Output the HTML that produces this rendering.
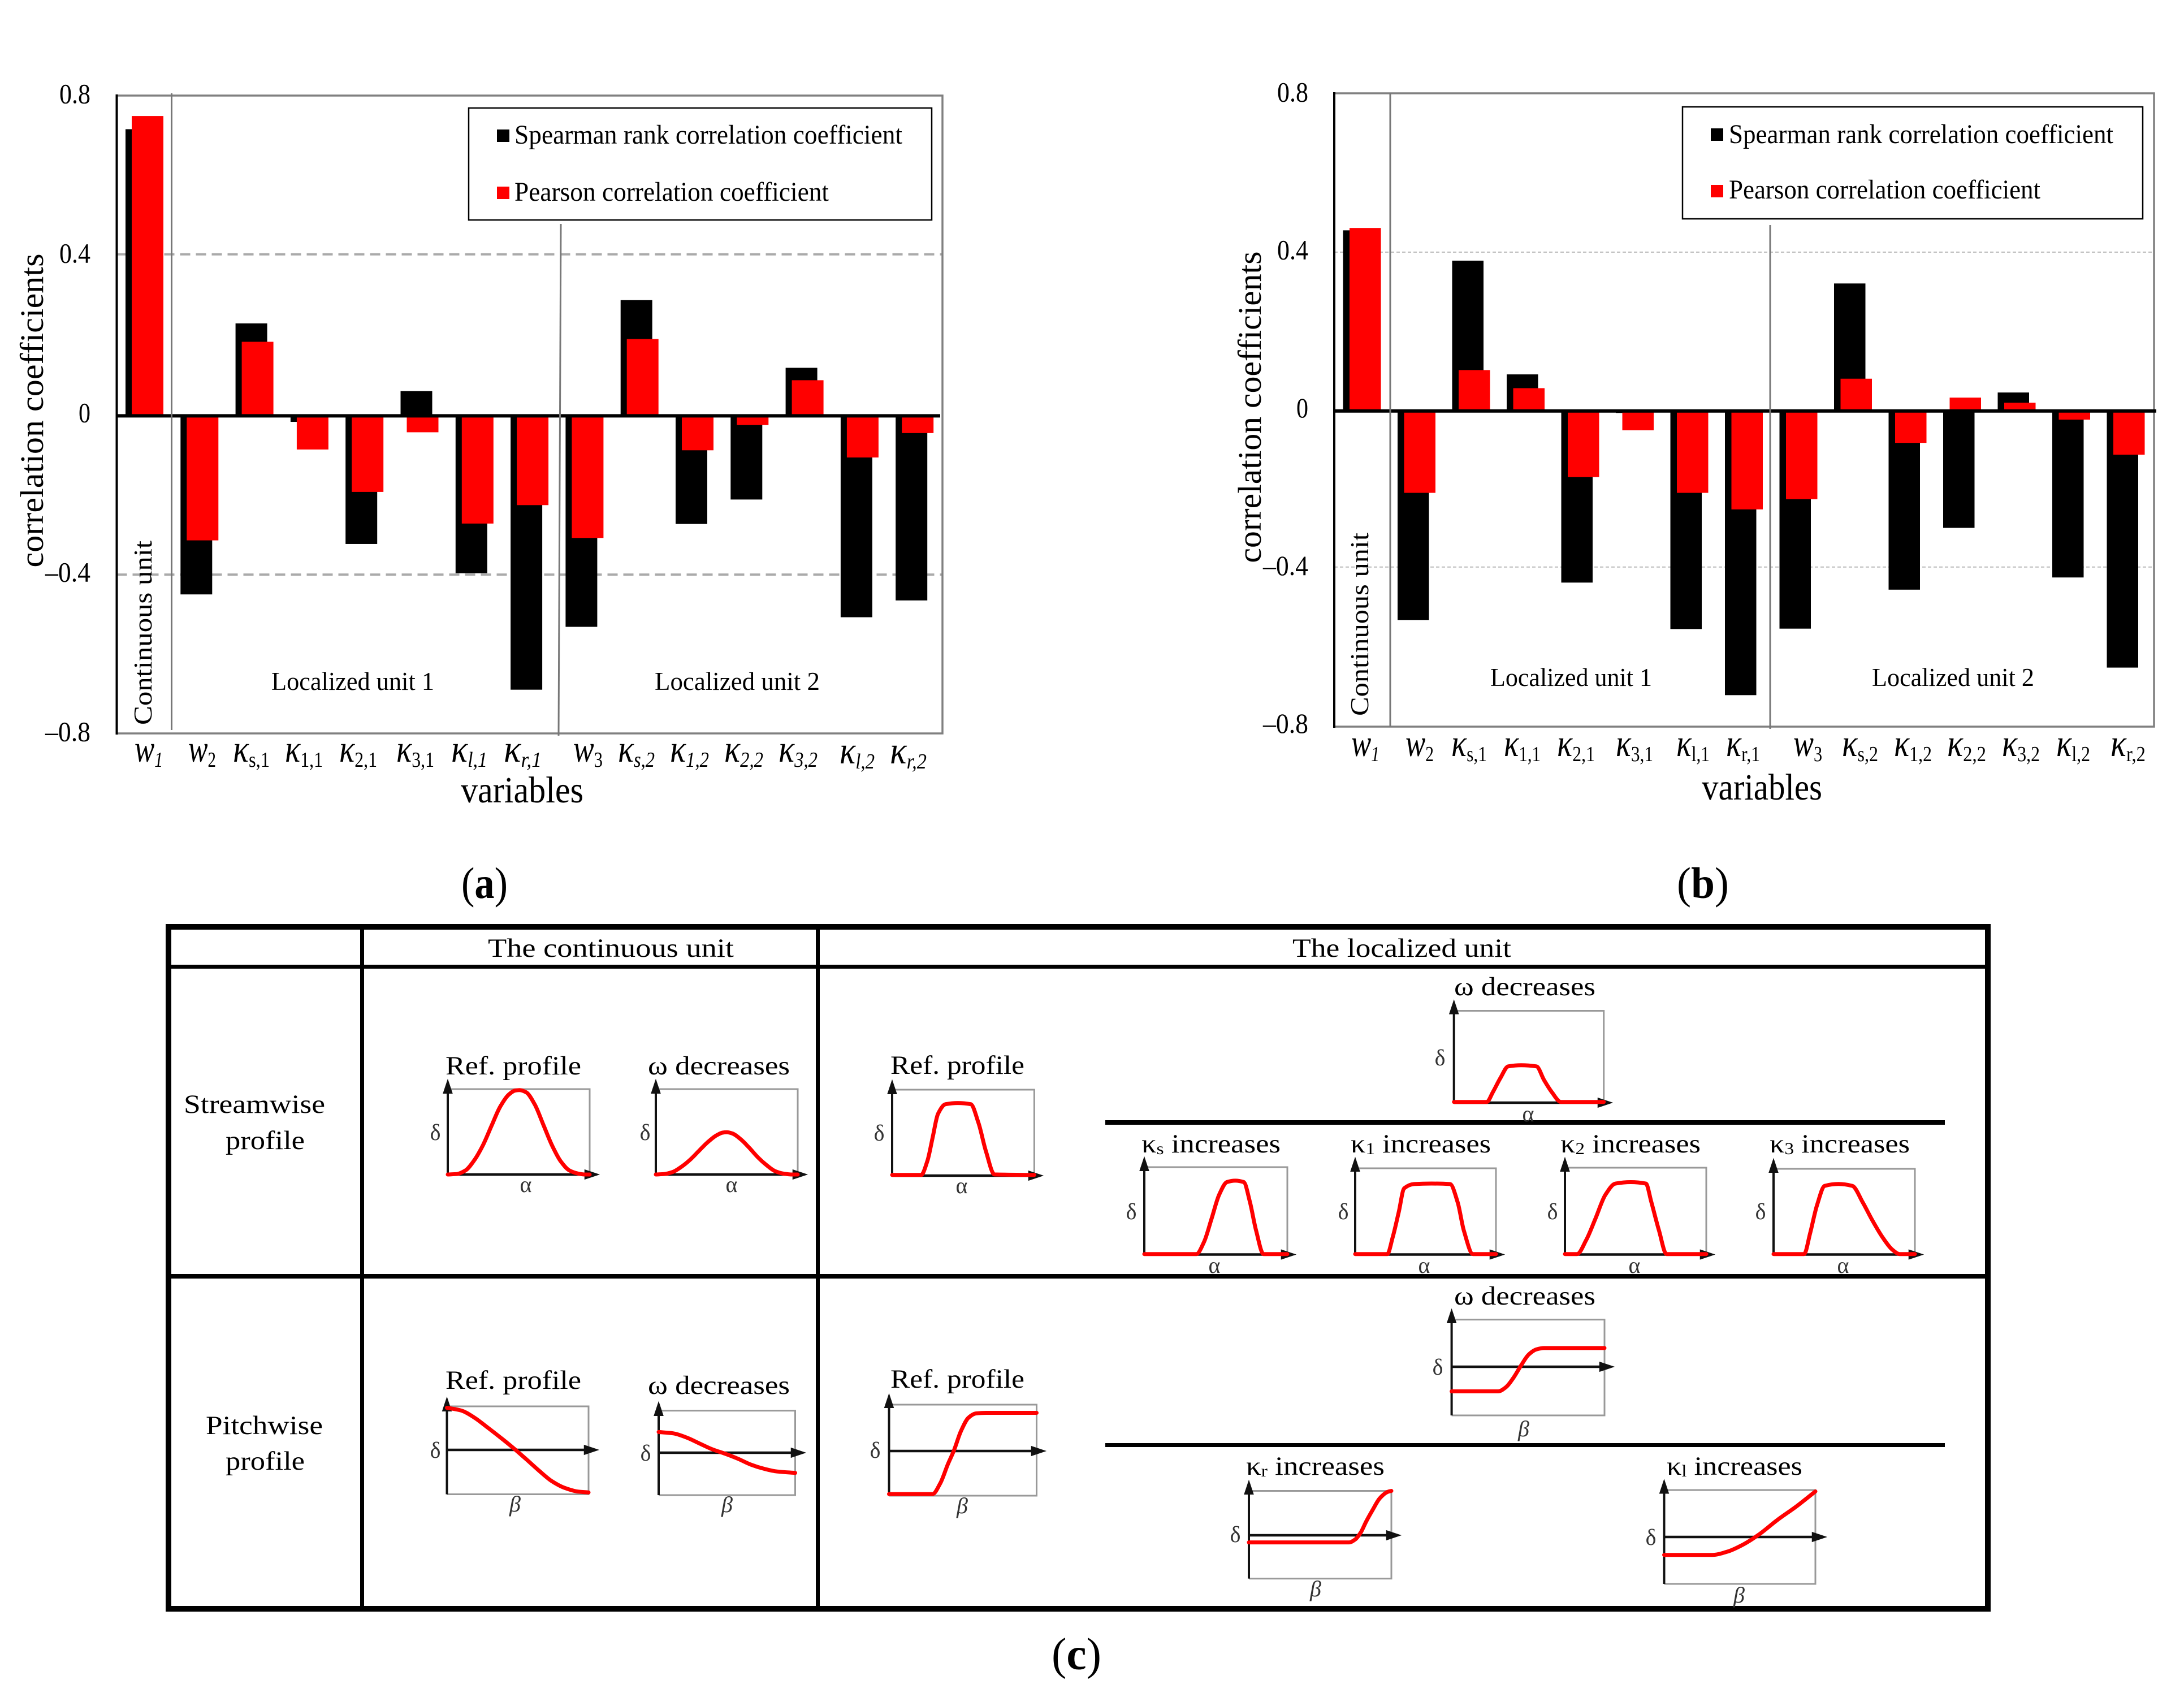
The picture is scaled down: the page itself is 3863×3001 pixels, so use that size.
<!DOCTYPE html>
<html lang="en">
<head>
<meta charset="utf-8">
<title>Correlation coefficients and profile parameterisation</title>
<style>
html,body{margin:0;padding:0;background:#fff;}
svg{display:block;}
text{font-family:"Liberation Serif","DejaVu Serif",serif;fill:#000;}
.tick{font-size:50px;}
.axt{font-size:58px;}
.var{font-size:66px;}
.leg{font-size:48px;}
.unit{font-size:46px;}
.cat{font-size:68px;font-style:italic;}
.sub{font-size:38px;font-style:normal;}
.subi{font-size:38px;font-style:italic;}
.cap{font-size:74px;}
.head{font-size:47px;}
.ttl{font-size:47px;}
.sml{font-size:40px;fill:#333;}
.smi{font-size:40px;fill:#333;font-style:italic;}
.ts{font-size:30px;}
</style>
</head>
<body>
<svg xmlns="http://www.w3.org/2000/svg" width="3863" height="3001" viewBox="0 0 3863 3001">
<rect x="0" y="0" width="3863" height="3001" fill="#fff"/>

<g id="chart-a"></g>
<g id="chart-b"></g>

<!-- chart a annotations -->
<g>
<rect x="829" y="191" width="819" height="198" fill="#fff" stroke="#000" stroke-width="2.5"/>
<rect x="879" y="229" width="22" height="22" fill="#000"/>
<text class="leg" x="910" y="254" textLength="686">Spearman rank correlation coefficient</text>
<rect x="879" y="330" width="22" height="22" fill="#f00"/>
<text class="leg" x="910" y="355" textLength="556">Pearson correlation coefficient</text>
<line x1="303.5" y1="165" x2="303.5" y2="1291" stroke="#777" stroke-width="3"/>
<line x1="992" y1="396" x2="988" y2="1301" stroke="#777" stroke-width="3"/>
<text class="axt" transform="translate(76,726) rotate(-90)" text-anchor="middle" textLength="555">correlation coefficients</text>
<text class="unit" transform="translate(268,1119) rotate(-90)" text-anchor="middle" textLength="326">Continuous unit</text>
<text class="unit" x="480" y="1220" textLength="288">Localized unit 1</text>
<text class="unit" x="1158" y="1220" textLength="292">Localized unit 2</text>
<text class="var" x="815" y="1419" textLength="217">variables</text>
<g>
<text class="cat" x="238" y="1347" textLength="50">w<tspan class="subi" dy="9">1</tspan></text>
<text class="cat" x="333" y="1347" textLength="49">w<tspan class="sub" dy="9">2</tspan></text>
<text class="cat" x="412" y="1347" textLength="65">κ<tspan class="sub" dy="9">s,1</tspan></text>
<text class="cat" x="504" y="1347" textLength="67">κ<tspan class="sub" dy="9">1,1</tspan></text>
<text class="cat" x="600" y="1347" textLength="67">κ<tspan class="sub" dy="9">2,1</tspan></text>
<text class="cat" x="701" y="1347" textLength="67">κ<tspan class="sub" dy="9">3,1</tspan></text>
<text class="cat" x="798" y="1347" textLength="64">κ<tspan class="subi" dy="9">l,1</tspan></text>
<text class="cat" x="891" y="1347" textLength="67">κ<tspan class="subi" dy="9">r,1</tspan></text>
<text class="cat" x="1014" y="1347" textLength="52">w<tspan class="sub" dy="9">3</tspan></text>
<text class="cat" x="1093" y="1347" textLength="65">κ<tspan class="subi" dy="9">s,2</tspan></text>
<text class="cat" x="1185" y="1347" textLength="69">κ<tspan class="subi" dy="9">1,2</tspan></text>
<text class="cat" x="1281" y="1347" textLength="69">κ<tspan class="subi" dy="9">2,2</tspan></text>
<text class="cat" x="1377" y="1347" textLength="69">κ<tspan class="subi" dy="9">3,2</tspan></text>
<text class="cat" x="1485" y="1350" textLength="62">κ<tspan class="subi" dy="9">l,2</tspan></text>
<text class="cat" x="1574" y="1350" textLength="65">κ<tspan class="subi" dy="9">r,2</tspan></text>
</g>
<text class="cap" x="816" y="1588" textLength="82" style="font-size:78px">(<tspan font-weight="bold">a</tspan>)</text>
</g>

<!-- chart b annotations -->
<g>
<rect x="2976" y="189" width="814" height="198" fill="#fff" stroke="#000" stroke-width="2.5"/>
<rect x="3026" y="227" width="22" height="22" fill="#000"/>
<text class="leg" x="3058" y="253" textLength="680">Spearman rank correlation coefficient</text>
<rect x="3026" y="327" width="22" height="22" fill="#f00"/>
<text class="leg" x="3058" y="351" textLength="551">Pearson correlation coefficient</text>
<line x1="2459" y1="165" x2="2459" y2="1285" stroke="#777" stroke-width="3"/>
<line x1="3131" y1="398" x2="3131" y2="1289" stroke="#777" stroke-width="3"/>
<text class="axt" transform="translate(2230,720) rotate(-90)" text-anchor="middle" textLength="551">correlation coefficients</text>
<text class="unit" transform="translate(2420,1104) rotate(-90)" text-anchor="middle" textLength="324">Continuous unit</text>
<text class="unit" x="2636" y="1213" textLength="286">Localized unit 1</text>
<text class="unit" x="3311" y="1213" textLength="287">Localized unit 2</text>
<text class="var" x="3010" y="1414" textLength="213">variables</text>
<g>
<text class="cat" x="2390" y="1337" textLength="50">w<tspan class="subi" dy="9">1</tspan></text>
<text class="cat" x="2486" y="1337" textLength="50">w<tspan class="sub" dy="9">2</tspan></text>
<text class="cat" x="2567" y="1337" textLength="63">κ<tspan class="sub" dy="9">s,1</tspan></text>
<text class="cat" x="2660" y="1337" textLength="65">κ<tspan class="sub" dy="9">1,1</tspan></text>
<text class="cat" x="2754" y="1337" textLength="67">κ<tspan class="sub" dy="9">2,1</tspan></text>
<text class="cat" x="2858" y="1337" textLength="66">κ<tspan class="sub" dy="9">3,1</tspan></text>
<text class="cat" x="2965" y="1337" textLength="59">κ<tspan class="sub" dy="9">l,1</tspan></text>
<text class="cat" x="3053" y="1337" textLength="60">κ<tspan class="sub" dy="9">r,1</tspan></text>
<text class="cat" x="3172" y="1337" textLength="51">w<tspan class="sub" dy="9">3</tspan></text>
<text class="cat" x="3258" y="1337" textLength="64">κ<tspan class="sub" dy="9">s,2</tspan></text>
<text class="cat" x="3350" y="1337" textLength="67">κ<tspan class="sub" dy="9">1,2</tspan></text>
<text class="cat" x="3444" y="1337" textLength="69">κ<tspan class="sub" dy="9">2,2</tspan></text>
<text class="cat" x="3541" y="1337" textLength="67">κ<tspan class="sub" dy="9">3,2</tspan></text>
<text class="cat" x="3637" y="1337" textLength="60">κ<tspan class="sub" dy="9">l,2</tspan></text>
<text class="cat" x="3733" y="1337" textLength="62">κ<tspan class="sub" dy="9">r,2</tspan></text>
</g>
<text class="cap" x="2966" y="1588" textLength="92" style="font-size:78px">(<tspan font-weight="bold">b</tspan>)</text>
</g>

<!-- table -->
<g>
<rect x="293" y="1634" width="10" height="1216" fill="#000"/>
<rect x="3511" y="1634" width="10" height="1216" fill="#000"/>
<rect x="293" y="1634" width="3228" height="10" fill="#000"/>
<rect x="293" y="2840" width="3228" height="10" fill="#000"/>
<rect x="293" y="1706" width="3228" height="7" fill="#000"/>
<rect x="293" y="2253" width="3228" height="8" fill="#000"/>
<rect x="637" y="1634" width="7" height="1216" fill="#000"/>
<rect x="1443" y="1634" width="7" height="1216" fill="#000"/>
<rect x="1955" y="1981" width="1485" height="8" fill="#000"/>
<rect x="1955" y="2552" width="1485" height="7" fill="#000"/>

<text class="head" x="863" y="1692" textLength="435">The continuous unit</text>
<text class="head" x="2286" y="1692" textLength="387">The localized unit</text>
<text class="head" x="325" y="1968" textLength="250">Streamwise</text>
<text class="head" x="399" y="2032" textLength="140">profile</text>
<text class="head" x="364" y="2536" textLength="207">Pitchwise</text>
<text class="head" x="399" y="2599" textLength="140">profile</text>

<!-- inset titles -->
<text class="ttl" x="788" y="1900" textLength="240">Ref. profile</text>
<text class="ttl" x="1146" y="1900" textLength="251">ω decreases</text>
<text class="ttl" x="1575" y="1899" textLength="237">Ref. profile</text>
<text class="ttl" x="2572" y="1760" textLength="250">ω decreases</text>
<text class="ttl" x="2019" y="2038" textLength="246">κ<tspan class="ts" dy="3">s</tspan><tspan dy="-3"> increases</tspan></text>
<text class="ttl" x="2389" y="2038" textLength="248">κ<tspan class="ts" dy="3">1</tspan><tspan dy="-3"> increases</tspan></text>
<text class="ttl" x="2760" y="2038" textLength="248">κ<tspan class="ts" dy="3">2</tspan><tspan dy="-3"> increases</tspan></text>
<text class="ttl" x="3130" y="2038" textLength="248">κ<tspan class="ts" dy="3">3</tspan><tspan dy="-3"> increases</tspan></text>
<text class="ttl" x="788" y="2456" textLength="240">Ref. profile</text>
<text class="ttl" x="1146" y="2465" textLength="251">ω decreases</text>
<text class="ttl" x="1575" y="2454" textLength="237">Ref. profile</text>
<text class="ttl" x="2572" y="2307" textLength="250">ω decreases</text>
<text class="ttl" x="2204" y="2608" textLength="245">κ<tspan class="ts" dy="3">r</tspan><tspan dy="-3"> increases</tspan></text>
<text class="ttl" x="2948" y="2608" textLength="240">κ<tspan class="ts" dy="3">l</tspan><tspan dy="-3"> increases</tspan></text>

<!-- inset axis letters -->
<g text-anchor="middle" transform="translate(0,2)">
<text class="sml" x="770" y="2014">δ</text>
<text class="sml" x="930" y="2106">α</text>
<text class="sml" x="1141" y="2014">δ</text>
<text class="sml" x="1294" y="2106">α</text>
<text class="sml" x="1555" y="2015">δ</text>
<text class="sml" x="1701" y="2108">α</text>
<text class="sml" x="2547" y="1882">δ</text>
<text class="sml" x="2703" y="1981">α</text>
<text class="sml" x="2001" y="2154">δ</text>
<text class="sml" x="2148" y="2249">α</text>
<text class="sml" x="2376" y="2154">δ</text>
<text class="sml" x="2519" y="2249">α</text>
<text class="sml" x="2746" y="2154">δ</text>
<text class="sml" x="2891" y="2249">α</text>
<text class="sml" x="3114" y="2154">δ</text>
<text class="sml" x="3260" y="2249">α</text>
<text class="sml" x="770" y="2576">δ</text>
<text class="smi" x="911" y="2671">β</text>
<text class="sml" x="1142" y="2581">δ</text>
<text class="smi" x="1286" y="2672">β</text>
<text class="sml" x="1548" y="2576">δ</text>
<text class="smi" x="1702" y="2674">β</text>
<text class="sml" x="2543" y="2429">δ</text>
<text class="smi" x="2695" y="2538">β</text>
<text class="sml" x="2185" y="2725">δ</text>
<text class="smi" x="2327" y="2821">β</text>
<text class="sml" x="2920" y="2730">δ</text>
<text class="smi" x="3076" y="2832">β</text>
</g>
<g id="insets"></g>
</g>
<text class="cap" x="1860" y="2952" textLength="88" style="font-size:80px">(<tspan font-weight="bold">c</tspan>)</text>
</svg>

<script>
// ---- bar chart data ----
const categoriesA = ['w1','w2','κs,1','κ1,1','κ2,1','κ3,1','κl,1','κr,1','w3','κs,2','κ1,2','κ2,2','κ3,2','κl,2','κr,2'];
const spearmanA = [0.716,-0.446,0.231,-0.015,-0.32,0.062,-0.393,-0.684,-0.527,0.289,-0.27,-0.209,0.12,-0.503,-0.461];
const pearsonA = [0.749,-0.311,0.185,-0.084,-0.19,-0.041,-0.269,-0.223,-0.305,0.192,-0.086,-0.023,0.089,-0.104,-0.043];
const categoriesB = ['w1','w2','κs,1','κ1,1','κ2,1','κ3,1','κl,1','κr,1','w3','κs,2','κ1,2','κ2,2','κ3,2','κl,2','κr,2'];
const spearmanB = [0.459,-0.531,0.382,0.093,-0.436,-0.005,-0.554,-0.722,-0.553,0.324,-0.454,-0.297,0.047,-0.423,-0.652];
const pearsonB = [0.465,-0.208,0.104,0.058,-0.168,-0.049,-0.208,-0.25,-0.224,0.082,-0.081,0.034,0.021,-0.022,-0.111];
const yTickValues = [0.8,0.4,0,-0.4,-0.8];
const yTickLabels = ['0.8','0.4','0','–0.4','–0.8'];
const gridValues = [0.4,-0.4];

// ---- profile curve data (fractions of each inset's axis range) ----
const streamContRefX = [0,.064,.125,.186,.247,.308,.369,.43,.476,.506,.552,.613,.674,.735,.796,.857,.918,.964,1];
const streamContRefY = [0,.005,.048,.165,.34,.569,.793,.936,.984,.989,.963,.82,.58,.34,.154,.048,.011,0,0];
const streamContOmegaX = [0,.06,.12,.18,.24,.3,.36,.42,.47,.5,.54,.6,.66,.72,.78,.84,.9,.96,1];
const streamContOmegaY = [0,.005,.03,.09,.17,.27,.37,.45,.49,.495,.48,.41,.31,.2,.11,.04,.01,0,0];
const pitchContRefX = [0,.1,.19,.285,.376,.468,.56,.65,.74,.83,.925,1];
const pitchContRefY = [.984,.953,.876,.762,.648,.528,.399,.269,.15,.073,.031,.021];
const pitchContOmegaX = [0,.108,.203,.297,.392,.487,.582,.677,.772,.867,1];
const pitchContOmegaY = [.747,.731,.683,.613,.543,.49,.43,.36,.312,.28,.263];
const streamLocRefX = [0,.204,.247,.285,.323,.376,.462,.553,.608,.661,.72,1];
const streamLocRefY = [.008,.008,.166,.443,.72,.831,.845,.831,.609,.277,.014,.008];
const streamLocOmegaX = [0,.219,.26,.311,.362,.449,.551,.602,.653,.714,1];
const streamLocOmegaY = [.008,.008,.116,.271,.395,.408,.395,.245,.116,.008,.008];
const streamKsX = [0,.364,.417,.471,.524,.578,.636,.695,.738,.781,.834,1];
const streamKsY = [.005,.005,.142,.414,.687,.829,.845,.829,.605,.278,.005,.005];
const streamK1X = [0,.228,.266,.31,.348,.418,.543,.674,.728,.772,.837,1];
const streamK1Y = [.005,.005,.196,.496,.768,.817,.823,.817,.605,.278,.005,.005];
const streamK2X = [0,.086,.151,.216,.286,.357,.465,.573,.611,.665,.719,1];
const streamK2Y = [.005,.005,.169,.414,.687,.817,.834,.817,.605,.278,.005,.005];
const streamK3X = [0,.216,.259,.308,.362,.459,.557,.632,.703,.773,.838,.892,1];
const streamK3Y = [.005,.005,.251,.578,.801,.823,.801,.605,.387,.196,.06,.005,.005];
const pitchLocRefX = [0,.295,.347,.399,.44,.487,.539,.59,.658,1];
const pitchLocRefY = [.018,.018,.136,.346,.497,.708,.858,.904,.91,.91];
const pitchLocOmegaX = [0,.305,.355,.405,.455,.505,.555,.605,1];
const pitchLocOmegaY = [.251,.251,.294,.394,.523,.637,.689,.703,.703];
const pitchKrX = [0,.704,.747,.785,.823,.866,.919,.973,1];
const pitchKrY = [.4125,.4125,.447,.525,.65,.775,.916,.988,1];
const pitchKlX = [0,.318,.419,.52,.621,.747,.874,1];
const pitchKlY = [.309,.309,.344,.417,.519,.679,.825,.985];

const NS = 'http://www.w3.org/2000/svg';
function add(parent, tag, attrs) {
  const el = document.createElementNS(NS, tag);
  for (const k in attrs) el.setAttribute(k, attrs[k]);
  parent.appendChild(el);
  return el;
}

function drawBarChart(g, c, categories, spearman, pearson) {
  const xBand = i => c.x0 + i * c.pitch;
  const yScale = v => c.zero - v * c.unit;
  const tickY = v => c.zero + 11 - v * c.tickUnit;

  gridValues.forEach(v => {
    const grid = add(g, 'line', {x1: c.left, x2: c.right, y1: yScale(v) - 2.5, y2: yScale(v) - 2.5, stroke: c.gridColor, 'stroke-width': c.gridWidth, 'stroke-dasharray': c.gridDash});
    
    
  });

  const frame = add(g, 'path', {d: 'M' + c.left + ' ' + c.top + 'H' + c.right + 'V' + c.bottom + 'H' + c.left, fill: 'none', stroke: '#808080', 'stroke-width': 3.5});
  
  

  categories.forEach((cat, i) => {
    const s = spearman[i];
    const sBar = add(g, 'rect', {x: xBand(i), y: Math.min(yScale(s), yScale(0)), width: c.barW, height: Math.abs(yScale(s) - yScale(0)), fill: '#000', 'data-category': cat});
    
    
    const p = pearson[i];
    const pBar = add(g, 'rect', {x: xBand(i) + c.offset, y: Math.min(yScale(p), yScale(0)), width: c.barW, height: Math.abs(yScale(p) - yScale(0)), fill: '#f00', 'data-category': cat});
    
    
  });

  const yAxis = add(g, 'line', {x1: c.left, x2: c.left, y1: c.top - 2, y2: c.bottom + 2, stroke: '#000', 'stroke-width': 4});
  
  
  const zeroAxis = add(g, 'line', {x1: c.left, x2: c.zeroEnd, y1: yScale(0), y2: yScale(0), stroke: '#000', 'stroke-width': 6});
  
  

  yTickValues.forEach((v, i) => {
    const label = yTickLabels[i];
    const t = add(g, 'text', {x: c.tickX, y: tickY(v), 'text-anchor': 'end', 'class': 'tick', textLength: label.length === 1 ? 21 : label.length === 3 ? 55 : 80});
    
    
    t.textContent = label;
  });
}

drawBarChart(document.getElementById('chart-a'),
  {left: 206.5, right: 1667, top: 169, bottom: 1297, zero: 735.4, unit: 708, tickUnit: 705, x0: 222, pitch: 97.3, barW: 56, offset: 11,
   gridColor: '#aaa', gridWidth: 4, gridDash: '18 10', zeroEnd: 1663, tickX: 160},
  categoriesA, spearmanA, pearsonA);
drawBarChart(document.getElementById('chart-b'),
  {left: 2360, right: 3810, top: 165, bottom: 1285, zero: 726.8, unit: 696, tickUnit: 698, x0: 2375.5, pitch: 96.5, barW: 55.5, offset: 11.5,
   gridColor: '#bbb', gridWidth: 2, gridDash: '6 4', zeroEnd: 3814, tickX: 2314},
  categoriesB, spearmanB, pearsonB);

// ---- profile insets ----
function monotonePath(pts) {
  const n = pts.length;
  const sec = [];
  for (let i = 0; i < n - 1; i++) sec.push((pts[i + 1][1] - pts[i][1]) / (pts[i + 1][0] - pts[i][0]));
  const tan = [sec[0]];
  for (let i = 1; i < n - 1; i++) {
    tan.push(sec[i - 1] * sec[i] <= 0 ? 0 : 2 * sec[i - 1] * sec[i] / (sec[i - 1] + sec[i]));
  }
  tan.push(sec[n - 2]);
  let d = 'M' + pts[0][0].toFixed(1) + ' ' + pts[0][1].toFixed(1);
  for (let i = 0; i < n - 1; i++) {
    const dx = (pts[i + 1][0] - pts[i][0]) / 3;
    d += 'C' + (pts[i][0] + dx).toFixed(1) + ' ' + (pts[i][1] + tan[i] * dx).toFixed(1) + ' ' +
         (pts[i + 1][0] - dx).toFixed(1) + ' ' + (pts[i + 1][1] - tan[i + 1] * dx).toFixed(1) + ' ' +
         pts[i + 1][0].toFixed(1) + ' ' + pts[i + 1][1].toFixed(1);
  }
  return d;
}

function drawInset(root, b, xs, ys) {
  const g = add(root, 'g', {});
  
  
  const xScale = u => b.l + u * (b.r - b.l);
  const yScale = v => b.b - v * (b.b - b.t);
  const axisY = b.axis === undefined ? b.b : b.axis;

  const box = add(g, 'path', {d: 'M' + b.l + ' ' + b.t + 'H' + b.r + 'V' + b.b + (b.axis === undefined ? '' : 'H' + b.l), fill: 'none', stroke: '#999', 'stroke-width': 3});
  
  

  const yAxis = add(g, 'path', {d: 'M' + b.l + ' ' + b.b + 'V' + (b.at + 10) + 'M' + (b.l - 6) + ' ' + (b.at + 18) + 'L' + b.l + ' ' + b.at + 'L' + (b.l + 6) + ' ' + (b.at + 18) + 'Z', stroke: '#111', 'stroke-width': 4, fill: '#111'});
  
  

  const xAxis = add(g, 'path', {d: 'M' + b.l + ' ' + axisY + 'H' + (b.ar - 12) + 'M' + (b.ar - 18) + ' ' + (axisY - 6) + 'L' + b.ar + ' ' + axisY + 'L' + (b.ar - 18) + ' ' + (axisY + 6) + 'Z', stroke: '#111', 'stroke-width': 4.5, fill: '#111'});
  
  

  const pts = xs.map((u, i) => [xScale(u), yScale(ys[i])]);
  const curve = add(g, 'path', {d: monotonePath(pts), fill: 'none', stroke: '#f00', 'stroke-width': 7, 'stroke-linecap': 'round', 'stroke-linejoin': 'round'});
  
  
}

const insetsRoot = document.getElementById('insets');
drawInset(insetsRoot, {l: 792, r: 1043, t: 1926, b: 2077, at: 1914, ar: 1054}, streamContRefX, streamContRefY);
drawInset(insetsRoot, {l: 1160, r: 1411, t: 1926, b: 2077, at: 1914, ar: 1422}, streamContOmegaX, streamContOmegaY);
drawInset(insetsRoot, {l: 790.5, r: 1041, t: 2487, b: 2642.5, axis: 2564, at: 2476, ar: 1053}, pitchContRefX, pitchContRefY);
drawInset(insetsRoot, {l: 1165, r: 1406.5, t: 2494.6, b: 2644, axis: 2569, at: 2484, ar: 1419}, pitchContOmegaX, pitchContOmegaY);
drawInset(insetsRoot, {l: 1578, r: 1829.4, t: 1927, b: 2079, at: 1915, ar: 1839}, streamLocRefX, streamLocRefY);
drawInset(insetsRoot, {l: 2571.7, r: 2836.7, t: 1787.5, b: 1950, at: 1773.6, ar: 2846}, streamLocOmegaX, streamLocOmegaY);
drawInset(insetsRoot, {l: 2024, r: 2277, t: 2064, b: 2218.5, at: 2051, ar: 2286}, streamKsX, streamKsY);
drawInset(insetsRoot, {l: 2397, r: 2646, t: 2066, b: 2218.5, at: 2052, ar: 2655}, streamK1X, streamK1Y);
drawInset(insetsRoot, {l: 2768, r: 3018, t: 2065, b: 2218.5, at: 2052, ar: 3027}, streamK2X, streamK2Y);
drawInset(insetsRoot, {l: 3137, r: 3387, t: 2067, b: 2218.5, at: 2054, ar: 3396}, streamK3X, streamK3Y);
drawInset(insetsRoot, {l: 1572.5, r: 1833.5, t: 2484, b: 2645, axis: 2566, at: 2470, ar: 1844}, pitchLocRefX, pitchLocRefY);
drawInset(insetsRoot, {l: 2567.6, r: 2838, t: 2333.6, b: 2503, axis: 2417, at: 2320, ar: 2849}, pitchLocOmegaX, pitchLocOmegaY);
drawInset(insetsRoot, {l: 2209, r: 2461, t: 2636.5, b: 2791.6, axis: 2715, at: 2623, ar: 2472}, pitchKrX, pitchKrY);
drawInset(insetsRoot, {l: 2943.5, r: 3211, t: 2635, b: 2801, axis: 2718, at: 2621.5, ar: 3225}, pitchKlX, pitchKlY);

document.querySelectorAll('text[textLength]').forEach(t => t.setAttribute('lengthAdjust', 'spacingAndGlyphs'));
</script>
</body>
</html>
